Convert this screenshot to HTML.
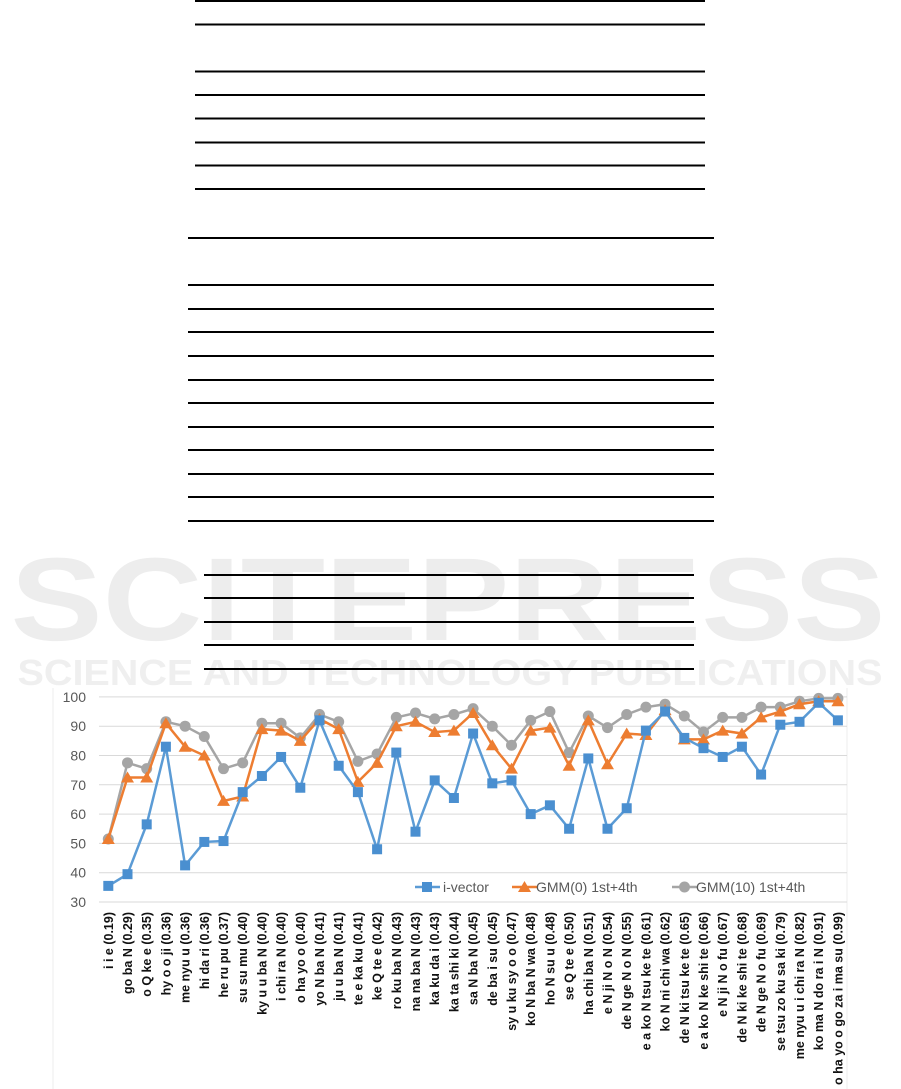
<!DOCTYPE html>
<html><head><meta charset="utf-8"><style>body{margin:0;background:#fff}svg{display:block}</style></head>
<body>
<svg id="s" width="901" height="1089" xmlns="http://www.w3.org/2000/svg" font-family="Liberation Sans, sans-serif">
<text x="448" y="640" font-size="118" font-weight="bold" fill="#ededed" text-anchor="middle" textLength="875" lengthAdjust="spacingAndGlyphs">SCITEPRESS</text>
<text x="450" y="685" font-size="36" font-weight="bold" fill="#efefef" text-anchor="middle" textLength="865" lengthAdjust="spacingAndGlyphs">SCIENCE AND TECHNOLOGY PUBLICATIONS</text>
<g stroke="#000" stroke-width="2">
<line x1="195" y1="1" x2="705" y2="1"/><line x1="195" y1="24.5" x2="705" y2="24.5"/>
<line x1="195" y1="71.5" x2="705" y2="71.5"/><line x1="195" y1="95" x2="705" y2="95"/>
<line x1="195" y1="118.5" x2="705" y2="118.5"/><line x1="195" y1="142.5" x2="705" y2="142.5"/>
<line x1="195" y1="165.5" x2="705" y2="165.5"/><line x1="195" y1="189" x2="705" y2="189"/>
<line x1="188" y1="238" x2="714" y2="238"/><line x1="188" y1="285" x2="714" y2="285"/>
<line x1="188" y1="309" x2="714" y2="309"/><line x1="188" y1="332" x2="714" y2="332"/>
<line x1="188" y1="356" x2="714" y2="356"/><line x1="188" y1="380" x2="714" y2="380"/>
<line x1="188" y1="403" x2="714" y2="403"/><line x1="188" y1="427" x2="714" y2="427"/>
<line x1="188" y1="450" x2="714" y2="450"/><line x1="188" y1="474" x2="714" y2="474"/>
<line x1="188" y1="497" x2="714" y2="497"/><line x1="188" y1="521" x2="714" y2="521"/>
<line x1="204" y1="575" x2="694" y2="575"/><line x1="204" y1="598" x2="694" y2="598"/>
<line x1="204" y1="622" x2="694" y2="622"/><line x1="204" y1="645" x2="694" y2="645"/>
<line x1="204" y1="669" x2="694" y2="669"/>
</g>
<line x1="53" y1="688" x2="53" y2="1089" stroke="#eee"/>
<line x1="847" y1="688" x2="847" y2="1089" stroke="#eee"/>
<g id="grid" stroke="#d9d9d9" stroke-width="1"></g>
<g id="yl" font-size="14" fill="#595959" text-anchor="end"></g>
<g id="series"></g>
<g font-size="14" fill="#595959">
<line x1="415" y1="887" x2="440" y2="887" stroke="#5b9bd5" stroke-width="2.5"/><rect x="422" y="882" width="10" height="10" fill="#4a8fd0"/>
<text x="443" y="892">i-vector</text>
<line x1="512" y1="887" x2="537" y2="887" stroke="#ed7d31" stroke-width="2.5"/><polygon points="524.5,881 531,892 518,892" fill="#ed7d31"/>
<text x="536" y="892">GMM(0) 1st+4th</text>
<line x1="672" y1="887" x2="697" y2="887" stroke="#a5a5a5" stroke-width="2.5"/><circle cx="684.5" cy="887" r="5.5" fill="#a5a5a5"/>
<text x="696" y="892">GMM(10) 1st+4th</text>
</g>
<g id="xl" font-size="12.5" font-weight="bold" fill="#111"></g>
</svg>
<script>
var ns="http://www.w3.org/2000/svg";
function el(t,a,p,txt){var e=document.createElementNS(ns,t);for(var k in a)e.setAttribute(k,a[k]);if(txt)e.textContent=txt;document.getElementById(p).appendChild(e);return e;}
function Y(v){return 902-(v-30)*29.3/10;}
for(var v=30;v<=100;v+=10){el('line',{x1:99,x2:847,y1:Y(v),y2:Y(v)},'grid');el('text',{x:86,y:Y(v)+5},'yl',String(v));}
var labs=["i i e (0.19)","go ba N (0.29)","o Q ke e (0.35)","hy o o ji (0.36)","me nyu u (0.36)","hi da ri (0.36)","he ru pu (0.37)","su su mu (0.40)","ky u u ba N (0.40)","i chi ra N (0.40)","o ha yo o (0.40)","yo N ba N (0.41)","ju u ba N (0.41)","te e ka ku (0.41)","ke Q te e (0.42)","ro ku ba N (0.43)","na na ba N (0.43)","ka ku da i (0.43)","ka ta shi ki (0.44)","sa N ba N (0.45)","de ba i su (0.45)","sy u ku sy o o (0.47)","ko N ba N wa (0.48)","ho N su u (0.48)","se Q te e (0.50)","ha chi ba N (0.51)","e N ji N o N (0.54)","de N ge N o N (0.55)","e a ko N tsu ke te (0.61)","ko N ni chi wa (0.62)","de N ki tsu ke te (0.65)","e a ko N ke shi te (0.66)","e N ji N o fu (0.67)","de N ki ke shi te (0.68)","de N ge N o fu (0.69)","se tsu zo ku sa ki (0.79)","me nyu u i chi ra N (0.82)","ko ma N do ra i N (0.91)","o ha yo o go za i ma su (0.99)"];
var iv=[35.5,39.5,56.5,83,42.5,50.5,50.8,67.5,73,79.5,69,92,76.5,67.5,48,81,54,71.5,65.5,87.5,70.5,71.5,60,63,55,79,55,62,88.5,95,86,82.5,79.5,83,73.5,90.5,91.5,98,92];
var g0=[51.5,72.5,72.5,91,83,80,64.5,66,89,88.5,85,92.5,89,71,77.5,90,91.5,88,88.5,94.5,83.5,75.5,88.5,89.5,76.5,92,77,87.5,87,95.5,85.5,85.5,88.5,87.5,93,95,97.5,98.5,98.5];
var g10=[51.5,77.5,75.5,91.5,90,86.5,75.5,77.5,91,91,86,94,91.5,78,80.5,93,94.5,92.5,94,96,90,83.5,92,95,81,93.5,89.5,94,96.5,97.5,93.5,88,93,93,96.5,96.5,98.5,99.5,99.5];
function X(i){return 108.3+i*19.2;}
function line(d,c){el('polyline',{points:d.map(function(v,i){return X(i)+','+Y(v)}).join(' '),fill:'none',stroke:c,'stroke-width':2.5},'series');}
line(g10,'#a5a5a5');g10.forEach(function(v,i){el('circle',{cx:X(i),cy:Y(v),r:5.5,fill:'#a5a5a5'},'series')});
line(g0,'#ed7d31');g0.forEach(function(v,i){var x=X(i),y=Y(v);el('polygon',{points:x+','+(y-6)+' '+(x+6.5)+','+(y+5)+' '+(x-6.5)+','+(y+5),fill:'#ed7d31'},'series')});
line(iv,'#5b9bd5');iv.forEach(function(v,i){el('rect',{x:X(i)-5,y:Y(v)-5,width:10,height:10,fill:'#4a8fd0'},'series')});
labs.forEach(function(t,i){var x=X(i)+4.5,y=912;el('text',{x:x,y:y,transform:'rotate(-90 '+x+' '+y+')','text-anchor':'end'},'xl',t);});
</script>
</body></html>
